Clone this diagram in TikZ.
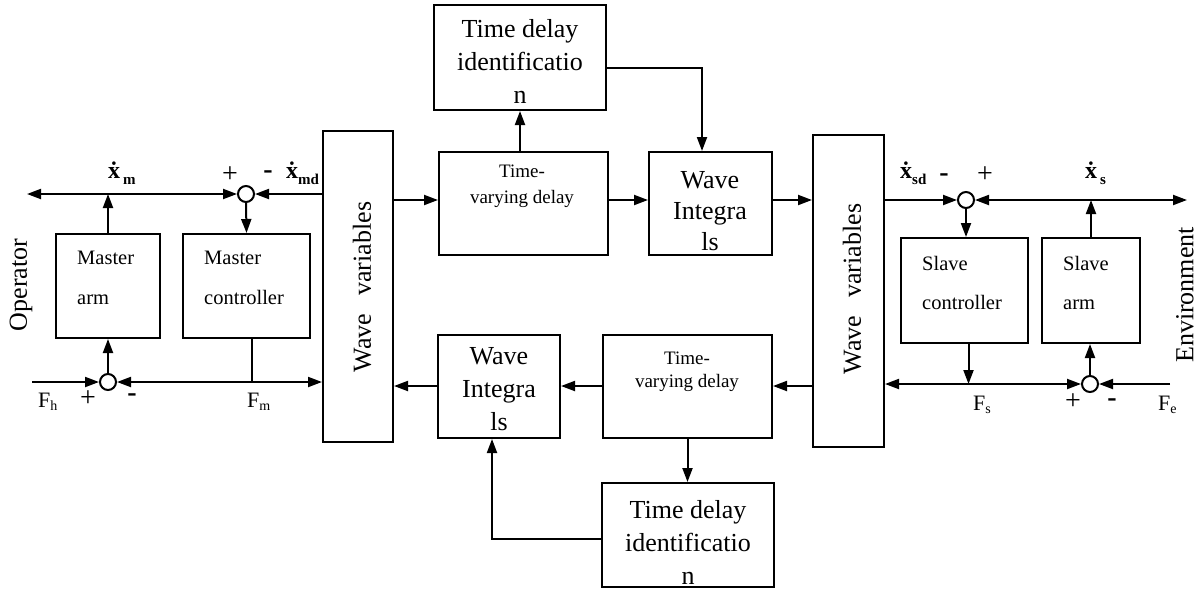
\documentclass[tikz,border=0pt]{standalone}
\usepackage{fontspec}
\setmainfont{Liberation Serif}
\usetikzlibrary{arrows.meta,calc}
\newcommand{\xdotted}{\.{x}}
\begin{document}
\begin{tikzpicture}[x=1pt,y=-1pt,
  box/.style={draw, line width=2pt, inner sep=0pt},
  sum/.style={circle, draw, line width=2pt, minimum size=16pt, inner sep=0pt},
  ln/.style={line width=2pt},
  arr/.style={line width=2pt, -{Triangle[length=14pt,width=10pt]}},
  barr/.style={line width=2pt, {Triangle[length=14pt,width=10pt]}-{Triangle[length=14pt,width=10pt]}},
  big/.style={font=\fontsize{26pt}{33pt}\selectfont, align=center, inner sep=0pt},
  mid/.style={font=\fontsize{20.5pt}{40pt}\selectfont, align=left, inner sep=0pt, anchor=west},
  small/.style={font=\fontsize{19pt}{26pt}\selectfont, align=center, inner sep=0pt},
  lab/.style={inner sep=0pt, anchor=base west},
  sgn/.style={inner sep=0pt, font=\fontsize{28pt}{28pt}\selectfont}
]
\useasboundingbox (0,0) rectangle (1204,590);

% ---------- boxes ----------
\node[box, minimum width=172pt, minimum height=105pt] (TDIa) at (520,57.5) {};
\node[box, minimum width=169pt, minimum height=103pt] (TVDa) at (523.5,203.5) {};
\node[box, minimum width=123pt, minimum height=103pt] (WIa) at (710.5,203.5) {};
\node[box, minimum width=70pt, minimum height=311pt] (WVL) at (358,286.5) {};
\node[box, minimum width=71pt, minimum height=312pt] (WVR) at (848.5,291) {};
\node[box, minimum width=122pt, minimum height=103pt] (WIb) at (499,386.5) {};
\node[box, minimum width=169pt, minimum height=103pt] (TVDb) at (687.5,386.5) {};
\node[box, minimum width=172pt, minimum height=104pt] (TDIb) at (688,535) {};
\node[box, minimum width=104pt, minimum height=104pt] (MA) at (108,286) {};
\node[box, minimum width=127pt, minimum height=104pt] (MC) at (246.5,286) {};
\node[box, minimum width=127pt, minimum height=105pt] (SC) at (964.5,290.5) {};
\node[box, minimum width=98pt, minimum height=105pt] (SA) at (1091,290.5) {};

% ---------- box texts ----------
\node[big] (TDIat) at (520,61) {Time delay\\identificatio\\n};
\node[small] (TVDat) at (522,186.5) {Time-\\varying delay};
\node[big, font=\fontsize{26pt}{31pt}\selectfont] (WIat) at (710,211) {Wave\\Integra\\ls};
\node[big, font=\fontsize{26pt}{33pt}\selectfont] (WIbt) at (499,389) {Wave\\Integra\\ls};
\node[small, font=\fontsize{19pt}{23pt}\selectfont] (TVDbt) at (687,371.5) {Time-\\varying delay};
\node[big] (TDIbt) at (688,542) {Time delay\\identificatio\\n};
\node[mid] (MAt) at (77,278) {Master\\arm};
\node[mid] (MCt) at (204,278) {Master\\controller};
\node[mid, font=\fontsize{20.5pt}{39pt}\selectfont] (SCt) at (922,282.5) {Slave\\controller};
\node[mid, font=\fontsize{20.5pt}{39pt}\selectfont] (SAt) at (1063,282.5) {Slave\\arm};
\node[big, rotate=90] (WVLt) at (362,287) {Wave\hspace{18pt}variables};
\node[big, rotate=90] (WVRt) at (852,289) {Wave\hspace{18pt}variables};
\node[big, rotate=90] (op) at (21,285) {Operator};
\node[big, rotate=90] (env) at (1185,295) {Environment};

% ---------- summing junctions ----------
\node[sum] (S1) at (246,194) {};
\node[sum] (S2) at (108,382) {};
\node[sum] (S3) at (966,200) {};
\node[sum] (S4) at (1090,384) {};

% ---------- free ends ----------
\coordinate (opL) at (27,194);
\coordinate (envR) at (1187,200);
\coordinate (fh) at (32,382);
\coordinate (fe) at (1170,384);
\coordinate (ytop) at (0,200);
\coordinate (ybot) at (0,386);
\coordinate (kA) at (702,68);
\coordinate (kB) at (492,539);

% ---------- master side ----------
\draw[barr] (opL) -- (S1.west);
\draw[arr] (MA.north) -- (MA.north |- S1);
\draw[arr] (WVL.west |- S1) -- (S1.east);
\draw[arr] (S1.south) -- (MC.north);
\draw[arr] (fh) -- (S2.west);
\draw[arr] (S2.north) -- (MA.south);
\draw[barr] (S2.east) -- (WVL.west |- S2);
\draw[ln] ($(MC.south)+(5,0)$) -- ($(MC.south |- S2)+(5,0)$);

% ---------- forward channel ----------
\draw[arr] (WVL.east |- ytop) -- (TVDa.west |- ytop);
\draw[arr] (TVDa.east |- ytop) -- (WIa.west |- ytop);
\draw[arr] (WIa.east |- ytop) -- (WVR.west |- ytop);
\draw[arr] (TDIa.south |- TVDa.north) -- (TDIa.south);
\draw[arr] (TDIa.east |- kA) -- (kA) -- (kA |- WIa.north);

% ---------- backward channel ----------
\draw[arr] (WVR.west |- ybot) -- (TVDb.east |- ybot);
\draw[arr] (TVDb.west |- ybot) -- (WIb.east |- ybot);
\draw[arr] (WIb.west |- ybot) -- (WVL.east |- ybot);
\draw[arr] (TVDb.south) -- (TVDb.south |- TDIb.north);
\draw[arr] (TDIb.west |- kB) -- (kB) -- (kB |- WIb.south);

% ---------- slave side ----------
\draw[arr] (WVR.east |- S3) -- (S3.west);
\draw[barr] (S3.east) -- (envR);
\draw[arr] (SA.north) -- (SA.north |- S3);
\draw[arr] (S3.south) -- (S3.south |- SC.north);
\draw[barr] (WVR.east |- S4) -- (S4.west);
\draw[arr] ($(SC.south)+(4,0)$) -- ($(SC.south |- S4)+(4,0)$);
\draw[arr] (fe) -- (S4.east);
\draw[arr] (S4.north) -- (S4.north |- SA.south);

% ---------- signal labels ----------
\node[lab] (lxm) at (108,178) {\fontsize{24pt}{24pt}\selectfont\bfseries\xdotted\hspace{3pt}\raisebox{-6pt}{\fontsize{15pt}{15pt}\selectfont m}};
\node[lab] (lxmd) at (286,178) {\fontsize{24pt}{24pt}\selectfont\bfseries\xdotted\raisebox{-6pt}{\fontsize{15pt}{15pt}\selectfont md}};
\node[lab] (lxsd) at (900,178) {\fontsize{24pt}{24pt}\selectfont\bfseries\xdotted\raisebox{-6pt}{\fontsize{15pt}{15pt}\selectfont sd}};
\node[lab] (lxs) at (1085,178) {\fontsize{24pt}{24pt}\selectfont\bfseries\xdotted\hspace{3pt}\raisebox{-6pt}{\fontsize{15pt}{15pt}\selectfont s}};
\node[lab] (lfh) at (38,407) {\fontsize{22pt}{22pt}\selectfont F\raisebox{-3pt}{\fontsize{14pt}{14pt}\selectfont h}};
\node[lab] (lfm) at (247,407) {\fontsize{22pt}{22pt}\selectfont F\raisebox{-3pt}{\fontsize{14pt}{14pt}\selectfont m}};
\node[lab] (lfs) at (973,410) {\fontsize{22pt}{22pt}\selectfont F\raisebox{-3pt}{\fontsize{14pt}{14pt}\selectfont s}};
\node[lab] (lfe) at (1158,410) {\fontsize{22pt}{22pt}\selectfont F\raisebox{-3pt}{\fontsize{14pt}{14pt}\selectfont e}};

% ---------- signs ----------
\node[sgn] (p1) at (230,175) {+};
\node[sgn] (m1) at (268,175) {\bfseries -};
\node[sgn] (m3) at (944,178) {\bfseries -};
\node[sgn] (p3) at (985,175) {+};
\node[sgn] (p2) at (88,399) {+};
\node[sgn] (m2) at (132,398) {\bfseries -};
\node[sgn] (p4) at (1073,402) {+};
\node[sgn] (m4) at (1112,403) {\bfseries -};
\end{tikzpicture}
\end{document}
